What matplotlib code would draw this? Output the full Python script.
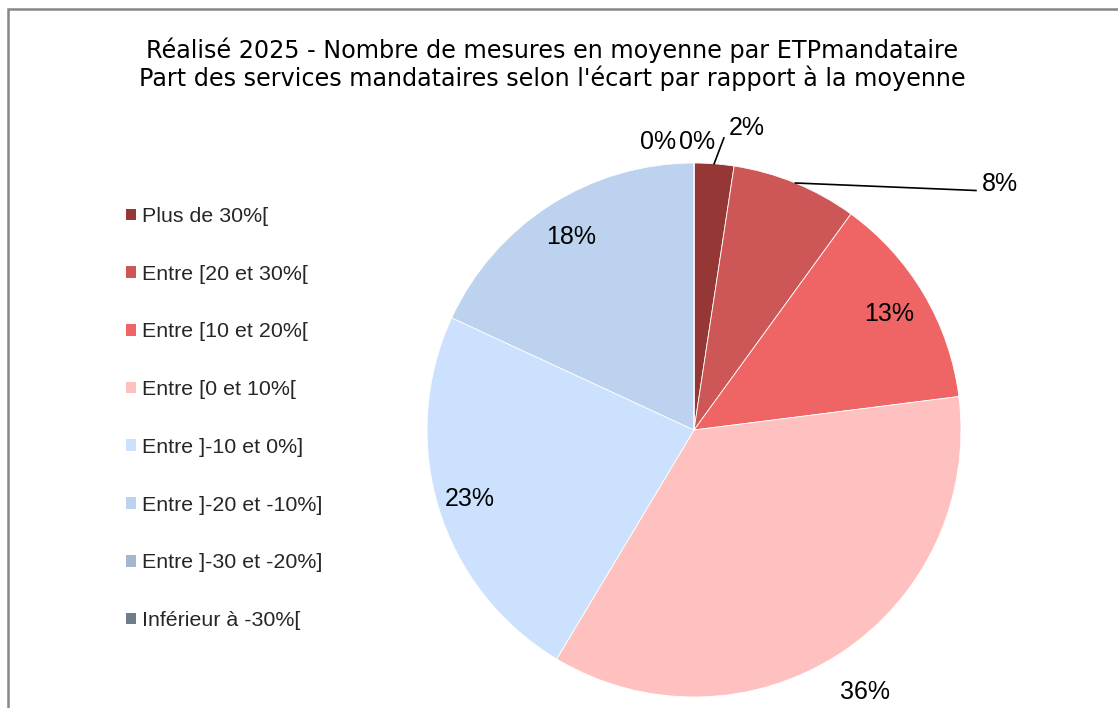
import matplotlib
matplotlib.use("Agg")
import matplotlib.pyplot as plt
from matplotlib.patches import Rectangle, Patch
import numpy as np

plt.rcParams['font.family'] = ['Liberation Sans', 'DejaVu Sans']

# ---- data ----
categories = ["Plus de 30%[", "Entre [20 et 30%[", "Entre [10 et 20%[", "Entre [0 et 10%[",
              "Entre ]-10 et 0%]", "Entre ]-20 et -10%]", "Entre ]-30 et -20%]", "Inférieur à -30%["]
shares = [2.4, 7.6, 13.0, 35.6, 23.3, 18.1, 0.0, 0.0]
colors = ["#953735", "#CD5656", "#EF6464", "#FFC0C0", "#CCE1FD", "#BDD2EE", "#A5B6CF", "#6F7C8C"]
title = ("Réalisé 2025 - Nombre de mesures en moyenne par ETPmandataire\n"
         "Part des services mandataires selon l'écart par rapport à la moyenne")

W, H = 1118, 708
fig = plt.figure(figsize=(W / 100, H / 100), dpi=100)
fig.patch.set_facecolor("white")

# chart frame
fig.patches.append(Rectangle((7.5 / W, -0.05), 1.2, 1 - 8.5 / H + 0.05, transform=fig.transFigure,
                             fill=False, edgecolor="#878787", linewidth=1.8))

# pie axes: centre (694, 430), radius 267 px
cx, cy, R = 694, 430, 267
ax = fig.add_axes([(cx - R) / W, (H - cy - R) / H, 2 * R / W, 2 * R / H])
ax.axis("off")

wedges, _ = ax.pie(shares, colors=colors, startangle=90, counterclock=False, radius=1,
                   wedgeprops=dict(edgecolor="white", linewidth=0.6))
ax.set_xlim(-1, 1)
ax.set_ylim(-1, 1)
ax.set_aspect("equal")

# label layout
lab_fs = 18
cum = np.cumsum([0] + shares)
total = sum(shares)
mid = [(cum[i] + cum[i + 1]) / 2 / total * 2 * np.pi for i in range(len(shares))]
inside_r = {2: 0.85, 3: 1.17, 4: 0.88, 5: 0.856}
for i, s in enumerate(shares):
    txt = f"{round(s):.0f}%"
    th = mid[i]
    if i in inside_r:
        r = inside_r[i]
        ax.text(r * np.sin(th), r * np.cos(th), txt, ha="center", va="center",
                fontsize=lab_fs, clip_on=False)
    elif i == 0:
        ax.plot([np.sin(th), 0.112], [np.cos(th), 1.094], color="black", lw=1.2, clip_on=False)
        ax.text(0.199, 1.131, txt, ha="center", va="center", fontsize=lab_fs, clip_on=False)
    elif i == 1:
        ax.plot([np.sin(th), 1.056], [np.cos(th), 0.897], color="black", lw=1.2, clip_on=False)
        ax.text(1.079, 0.921, txt, ha="left", va="center", fontsize=lab_fs, clip_on=False)
    elif i == 6:
        ax.text(-0.135, 1.077, txt, ha="center", va="center", fontsize=lab_fs, clip_on=False)
    elif i == 7:
        ax.text(0.011, 1.077, txt, ha="center", va="center", fontsize=lab_fs, clip_on=False)

# title
fig.text(552.5 / W, 1 - 64 / H, title, ha="center", va="center", fontsize=17.2,
         family=["DejaVu Sans"], multialignment="center", linespacing=1.12)

# legend
handles = [Patch(facecolor=c, edgecolor="none") for c in colors]
leg = fig.legend(handles, categories, loc="upper left", bbox_to_anchor=(126 / W, 1 - 207 / H),
                 frameon=False, fontsize=15.4, handlelength=0.47, handleheight=0.47,
                 handletextpad=0.28, labelspacing=1.81, borderpad=0, borderaxespad=0)
for t in leg.get_texts():
    t.set_color("#262626")

fig.savefig("out.png", dpi=100)
